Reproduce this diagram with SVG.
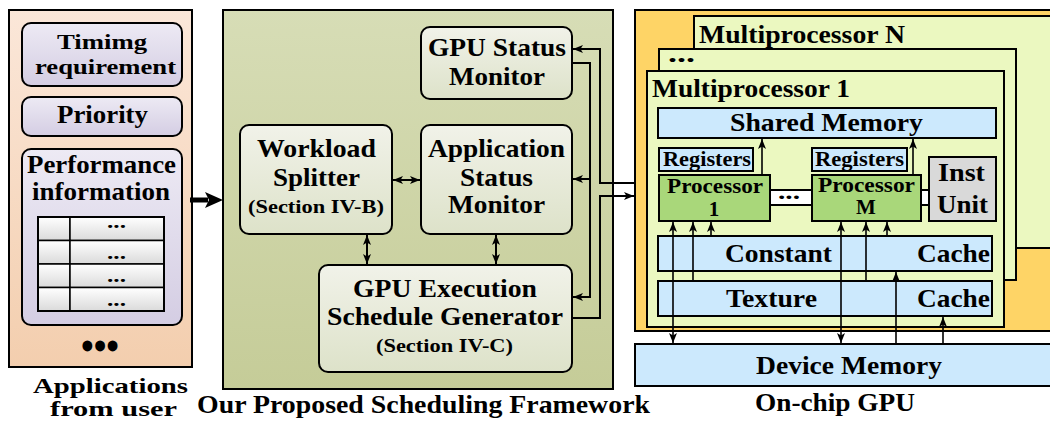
<svg xmlns="http://www.w3.org/2000/svg" width="1050" height="421" viewBox="0 0 1050 421">
<style>
text{font-family:"Liberation Serif","Times New Roman",serif;font-weight:bold;fill:#000}
.t25{font-size:25px}
.t18{font-size:18px}
.t20{font-size:20px}
.t21{font-size:21px}
.t26{font-size:26px}
.box{stroke:#000;stroke-width:2}
.ln{fill:none;stroke:#000;stroke-width:2}
.thin{fill:none;stroke:#000;stroke-width:1.6}
</style>
<defs>
<linearGradient id="gPeach" x1="0" y1="0" x2="0" y2="1"><stop offset="0" stop-color="#fbe7d9"/><stop offset="1" stop-color="#f3ceae"/></linearGradient>
<linearGradient id="gLav" x1="0" y1="0" x2="0" y2="1"><stop offset="0" stop-color="#edeaf4"/><stop offset="1" stop-color="#d4cde3"/></linearGradient>
<linearGradient id="gCell" x1="0" y1="0" x2="0" y2="1"><stop offset="0" stop-color="#ffffff"/><stop offset="1" stop-color="#dadada"/></linearGradient>
<linearGradient id="gOlive" x1="0" y1="0" x2="0" y2="1"><stop offset="0" stop-color="#d7ddb6"/><stop offset="1" stop-color="#c5cc98"/></linearGradient>
<linearGradient id="gBox" x1="0" y1="0" x2="0" y2="1"><stop offset="0" stop-color="#f1f2e9"/><stop offset="1" stop-color="#dde2c9"/></linearGradient>
<marker id="ah" viewBox="0 0 10 8" refX="10" refY="4" markerWidth="10" markerHeight="8" markerUnits="userSpaceOnUse" orient="auto-start-reverse"><path d="M0,0 L10,4 L0,8 L2.5,4 Z" fill="#000"/></marker>
</defs>
<rect width="1050" height="421" fill="#fff"/>

<g id="applications">
<rect x="9" y="10" width="183" height="357" fill="url(#gPeach)" class="box"/>
<rect x="22" y="23" width="160" height="63" rx="9" fill="url(#gLav)" class="box"/>
<text style="font-size:22px" x="57" y="49" textLength="90" lengthAdjust="spacingAndGlyphs">Timimg</text>
<text style="font-size:22px" x="35" y="74" textLength="141" lengthAdjust="spacingAndGlyphs">requirement</text>
<rect x="22" y="97" width="160" height="39" rx="9" fill="url(#gLav)" class="box"/>
<text class="t25" x="57" y="123" textLength="91" lengthAdjust="spacingAndGlyphs">Priority</text>
<rect x="22" y="149" width="160" height="176" rx="9" fill="url(#gLav)" class="box"/>
<text class="t25" x="27" y="173" textLength="149" lengthAdjust="spacingAndGlyphs">Performance</text>
<text class="t25" x="32" y="200" textLength="138" lengthAdjust="spacingAndGlyphs">information</text>
<g id="table">
<rect x="38" y="217" width="32" height="23.5" fill="url(#gCell)" stroke="#000" stroke-width="1.5"/>
<rect x="70" y="217" width="94" height="23.5" fill="url(#gCell)" stroke="#000" stroke-width="1.5"/>
<rect x="38" y="240.5" width="32" height="23.5" fill="url(#gCell)" stroke="#000" stroke-width="1.5"/>
<rect x="70" y="240.5" width="94" height="23.5" fill="url(#gCell)" stroke="#000" stroke-width="1.5"/>
<rect x="38" y="264" width="32" height="23.5" fill="url(#gCell)" stroke="#000" stroke-width="1.5"/>
<rect x="70" y="264" width="94" height="23.5" fill="url(#gCell)" stroke="#000" stroke-width="1.5"/>
<rect x="38" y="287.5" width="32" height="23.5" fill="url(#gCell)" stroke="#000" stroke-width="1.5"/>
<rect x="70" y="287.5" width="94" height="23.5" fill="url(#gCell)" stroke="#000" stroke-width="1.5"/>
<rect x="38" y="217" width="126" height="94" fill="none" stroke="#000" stroke-width="2"/>
<text class="t18" x="107" y="228" textLength="19" lengthAdjust="spacingAndGlyphs">...</text>
<text class="t18" x="107" y="259" textLength="19" lengthAdjust="spacingAndGlyphs">...</text>
<text class="t18" x="107" y="282" textLength="19" lengthAdjust="spacingAndGlyphs">...</text>
<text class="t18" x="107" y="306" textLength="19" lengthAdjust="spacingAndGlyphs">...</text>
</g>
<text x="100" y="360" text-anchor="middle" style="font-size:40px" textLength="38" lengthAdjust="spacingAndGlyphs">•••</text>
<text style="font-size:21px" x="33" y="393" textLength="155" lengthAdjust="spacingAndGlyphs">Applications</text>
<text style="font-size:21px" x="50" y="416" textLength="127" lengthAdjust="spacingAndGlyphs">from user</text>
</g>

<g id="framework">
<rect x="223" y="10" width="390" height="379" fill="url(#gOlive)" class="box"/>
<text class="t25" x="197" y="413" textLength="453" lengthAdjust="spacingAndGlyphs">Our Proposed Scheduling Framework</text>
</g>

<g id="gpu-status-monitor">
<rect x="421" y="27" width="151" height="72" rx="9" fill="url(#gBox)" class="box"/>
<text class="t25" x="428" y="56" textLength="138" lengthAdjust="spacingAndGlyphs">GPU Status</text>
<text class="t25" x="449" y="85" textLength="96" lengthAdjust="spacingAndGlyphs">Monitor</text>
</g>

<g id="workload-splitter">
<rect x="240" y="125" width="152" height="109" rx="9" fill="url(#gBox)" class="box"/>
<text class="t25" x="257" y="157" textLength="119" lengthAdjust="spacingAndGlyphs">Workload</text>
<text class="t25" x="273" y="186" textLength="87" lengthAdjust="spacingAndGlyphs">Splitter</text>
<text class="t18" x="248" y="213" textLength="136" lengthAdjust="spacingAndGlyphs">(Section IV-B)</text>
</g>

<g id="application-status-monitor">
<rect x="421" y="125" width="151" height="109" rx="9" fill="url(#gBox)" class="box"/>
<text class="t25" x="428" y="157" textLength="137" lengthAdjust="spacingAndGlyphs">Application</text>
<text class="t25" x="460" y="186" textLength="73" lengthAdjust="spacingAndGlyphs">Status</text>
<text class="t25" x="448" y="213" textLength="97" lengthAdjust="spacingAndGlyphs">Monitor</text>
</g>

<g id="schedule-generator">
<rect x="319" y="265" width="253" height="107" rx="9" fill="url(#gBox)" class="box"/>
<text class="t25" x="353" y="297" textLength="184" lengthAdjust="spacingAndGlyphs">GPU Execution</text>
<text class="t25" x="327" y="325" textLength="236" lengthAdjust="spacingAndGlyphs">Schedule Generator</text>
<text class="t18" x="376" y="352" textLength="137" lengthAdjust="spacingAndGlyphs">(Section IV-C)</text>
</g>

<g id="gpu">
<rect x="635" y="10" width="430" height="321" fill="#fed466" class="box"/>
<rect x="694" y="16" width="370" height="232" fill="#ebf8c0" class="box"/>
<text class="t25" x="699" y="43" textLength="206" lengthAdjust="spacingAndGlyphs">Multiprocessor N</text>
<rect x="659" y="49" width="357" height="231" fill="#ebf8c0" class="box"/>
<text class="t25" x="668" y="62" textLength="27" lengthAdjust="spacingAndGlyphs">...</text>
<rect x="647" y="71" width="357" height="256" fill="#ebf8c0" class="box"/>
<text class="t25" x="652" y="97" textLength="198" lengthAdjust="spacingAndGlyphs">Multiprocessor 1</text>
</g>

<g id="shared-memory">
<rect x="658" y="108" width="338" height="30" fill="#cce9fd" class="box"/>
<text class="t25" x="730" y="131" textLength="193" lengthAdjust="spacingAndGlyphs">Shared Memory</text>
</g>

<g id="registers-1">
<rect x="659" y="148" width="94" height="23" fill="#cce9fd" class="box"/>
<text class="t20" x="663" y="166" textLength="88" lengthAdjust="spacingAndGlyphs">Registers</text>
</g>
<g id="registers-m">
<rect x="812" y="148" width="95" height="23" fill="#cce9fd" class="box"/>
<text class="t20" x="815" y="166" textLength="89" lengthAdjust="spacingAndGlyphs">Registers</text>
</g>

<g id="processor-link">
<rect x="770" y="190" width="42" height="15" fill="#fff" class="box"/>
<text class="t20" x="778" y="199" textLength="22" lengthAdjust="spacingAndGlyphs">...</text>
<rect x="921" y="190" width="8" height="15" fill="#fff" class="box"/>
</g>

<g id="processor-1">
<rect x="659" y="175" width="111" height="46" fill="#a9d77a" class="box"/>
<text class="t21" x="667" y="193" textLength="96" lengthAdjust="spacingAndGlyphs">Processor</text>
<text class="t21" x="714" y="216" text-anchor="middle">1</text>
</g>

<g id="processor-m">
<rect x="812" y="175" width="109" height="46" fill="#a9d77a" class="box"/>
<text class="t21" x="818" y="192" textLength="97" lengthAdjust="spacingAndGlyphs">Processor</text>
<text class="t21" x="866" y="214" text-anchor="middle">M</text>
</g>

<g id="inst-unit">
<rect x="929" y="157" width="67" height="64" fill="#d9d9d9" class="box"/>
<text class="t26" x="938" y="181" textLength="47" lengthAdjust="spacingAndGlyphs">Inst</text>
<text class="t26" x="937" y="213" textLength="51" lengthAdjust="spacingAndGlyphs">Unit</text>
</g>

<g id="constant-cache">
<rect x="658" y="236" width="334" height="35" fill="#cce9fd" class="box"/>
<text class="t26" x="725" y="262" textLength="107" lengthAdjust="spacingAndGlyphs">Constant</text>
<text class="t26" x="917" y="262" textLength="73" lengthAdjust="spacingAndGlyphs">Cache</text>
</g>

<g id="texture-cache">
<rect x="658" y="281" width="334" height="35" fill="#cce9fd" class="box"/>
<text class="t26" x="726" y="307" textLength="91" lengthAdjust="spacingAndGlyphs">Texture</text>
<text class="t26" x="917" y="307" textLength="73" lengthAdjust="spacingAndGlyphs">Cache</text>
</g>

<g id="device-memory">
<rect x="635" y="344" width="430" height="42" fill="#cce9fd" class="box"/>
<text class="t25" x="756" y="374" textLength="186" lengthAdjust="spacingAndGlyphs">Device Memory</text>
<text class="t26" x="755" y="411" textLength="160" lengthAdjust="spacingAndGlyphs">On-chip GPU</text>
</g>

<g id="connectors">
<line x1="190" y1="200" x2="208" y2="200" stroke="#000" stroke-width="5"/>
<path d="M205,192 L223,200 L205,208 L209,200 Z" fill="#000"/>
<line x1="393" y1="180" x2="420" y2="180" class="ln" marker-start="url(#ah)" marker-end="url(#ah)"/>
<line x1="367" y1="235" x2="367" y2="264" class="ln" marker-start="url(#ah)" marker-end="url(#ah)"/>
<line x1="496" y1="235" x2="496" y2="264" class="ln" marker-start="url(#ah)" marker-end="url(#ah)"/>
<polyline points="635,183 600,183 600,49 573,49" class="ln" marker-end="url(#ah)"/>
<polyline points="572,63 590,63 590,297 573,297" class="ln" marker-end="url(#ah)"/>
<line x1="590" y1="179" x2="573" y2="179" class="ln" marker-end="url(#ah)"/>
<polyline points="572,318 600,318 600,196 634,196" class="ln" marker-end="url(#ah)"/>
<line x1="673" y1="222" x2="673" y2="343" class="thin" marker-start="url(#ah)" marker-end="url(#ah)"/>
<line x1="693" y1="281" x2="693" y2="222" class="thin" marker-end="url(#ah)"/>
<line x1="711" y1="236" x2="711" y2="222" class="thin" marker-end="url(#ah)"/>
<line x1="762" y1="175" x2="762" y2="139" class="thin" marker-end="url(#ah)"/>
<line x1="841" y1="222" x2="841" y2="343" class="thin" marker-start="url(#ah)" marker-end="url(#ah)"/>
<line x1="866" y1="281" x2="866" y2="222" class="thin" marker-end="url(#ah)"/>
<line x1="887" y1="236" x2="887" y2="222" class="thin" marker-end="url(#ah)"/>
<line x1="913" y1="175" x2="913" y2="139" class="thin" marker-end="url(#ah)"/>
<line x1="896" y1="344" x2="896" y2="272" class="thin" marker-end="url(#ah)"/>
<line x1="943" y1="344" x2="943" y2="317" class="thin" marker-end="url(#ah)"/>
</g>
</svg>
